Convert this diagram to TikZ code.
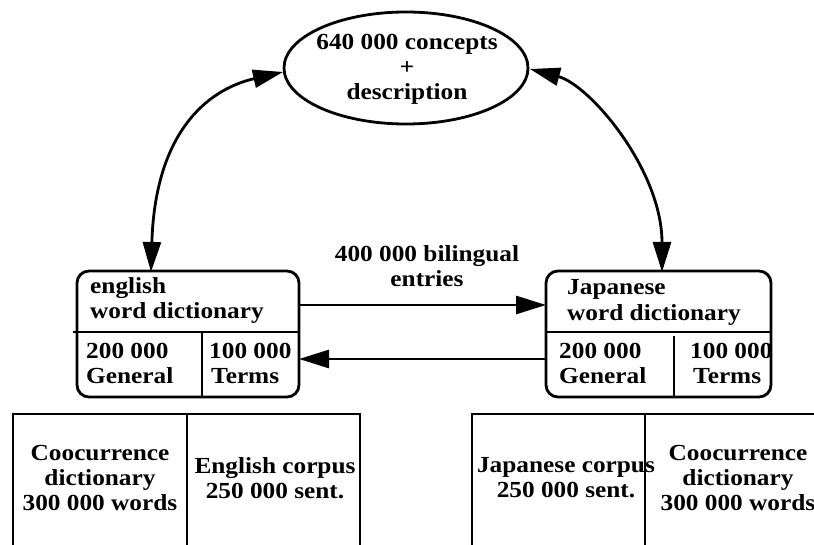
\documentclass[tikz,border=0pt]{standalone}
\usepackage{fontspec}
\setmainfont{Liberation Serif}[FakeStretch=1.1]
\usetikzlibrary{arrows.meta,shapes.geometric}
\begin{document}
\begin{tikzpicture}[x=1pt,y=-1pt,
  every node/.style={font=\bfseries\fontsize{23}{25}\selectfont},
  ln/.style={line width=2.8pt},
  tip/.style={-{Triangle[length=30pt,width=18pt]}},
  dtip/.style={{Triangle[length=30pt,width=18pt]}-{Triangle[length=30pt,width=18pt]}},
  txt/.style={inner sep=0pt, anchor=base west},
  ctxt/.style={inner sep=0pt, align=center},
  dictbox/.style={draw, ln, rounded corners=12pt, inner sep=0pt}]
\useasboundingbox (0,0) rectangle (814,545);
% concepts ellipse
\node[draw, ln, ellipse, minimum width=244pt, minimum height=112pt, inner sep=0pt] (con) at (406,68) {};
\node[ctxt] (cont) at (407,69) {640 000 concepts\\+\\description};
% english box
\node[dictbox, minimum width=222pt, minimum height=126pt] (eng) at (188,334) {};
\coordinate (eh1) at (73,332);
\coordinate (eh2) at (299,332);
\coordinate (ev1) at (202,332);
\coordinate (ev2) at (202,398);
\draw[ln] (eh1) -- (eh2);
\draw[ln] (ev1) -- (ev2);
\node[txt] (e1) at (90,294) {english};
\node[txt] (e2) at (90,319) {word dictionary};
\node[txt] (e3) at (86,358) {200 000};
\node[txt] (e4) at (86,383) {General};
\node[txt] (e5) at (209,358) {100 000};
\node[txt] (e6) at (211,383) {Terms};
% japanese box
\node[dictbox, minimum width=225pt, minimum height=126pt] (jap) at (658.5,334) {};
\coordinate (jh1) at (546,332);
\coordinate (jh2) at (771,332);
\coordinate (jv1) at (674,336);
\coordinate (jv2) at (674,398);
\draw[ln] (jh1) -- (jh2);
\draw[ln] (jv1) -- (jv2);
\node[txt] (j1) at (567,295) {Japanese};
\node[txt] (j2) at (567,320) {word dictionary};
\node[txt] (j3) at (559,358) {200 000};
\node[txt] (j4) at (559,383) {General};
\node[txt] (j5) at (690,358) {100 000};
\node[txt] (j6) at (693,383) {Terms};
% bilingual arrows
\coordinate (a1) at (299,305);
\coordinate (a2) at (546,305);
\coordinate (b1) at (546,359);
\coordinate (b2) at (299,359);
\draw[ln, tip] (a1) -- (a2);
\draw[ln, tip] (b1) -- (b2);
\node[ctxt] (bil) at (427,266) {400 000 bilingual\\entries};
% curved arrows
\coordinate (cl) at (283,72);
\coordinate (el) at (151,272);
\coordinate (cr) at (530,69);
\coordinate (jr) at (662,272);
\draw[ln, dtip] (cl) .. controls (205,90) and (155,135) .. (el);
\draw[ln, dtip] (cr) .. controls (590,85) and (662,170) .. (jr);
% bottom tables
\coordinate (l1) at (13,548);
\coordinate (l2) at (13,414);
\coordinate (l3) at (360,414);
\coordinate (l4) at (360,548);
\coordinate (lm1) at (187,414);
\coordinate (lm2) at (187,548);
\draw[ln] (l1) -- (l2) -- (l3) -- (l4);
\draw[ln] (lm1) -- (lm2);
\node[ctxt] (lt1) at (100,478) {Coocurrence\\dictionary\\300 000 words};
\node[ctxt] (lt2) at (275,478) {English corpus\\250 000 sent.};
\coordinate (r1) at (472,548);
\coordinate (r2) at (472,414);
\coordinate (r3) at (820,414);
\coordinate (rm1) at (645,414);
\coordinate (rm2) at (645,548);
\draw[ln] (r1) -- (r2) -- (r3);
\draw[ln] (rm1) -- (rm2);
\node[ctxt] (rt1) at (566,478) {Japanese corpus\\250 000 sent.};
\node[ctxt] (rt2) at (738,478) {Coocurrence\\dictionary\\300 000 words};
\end{tikzpicture}
\end{document}
